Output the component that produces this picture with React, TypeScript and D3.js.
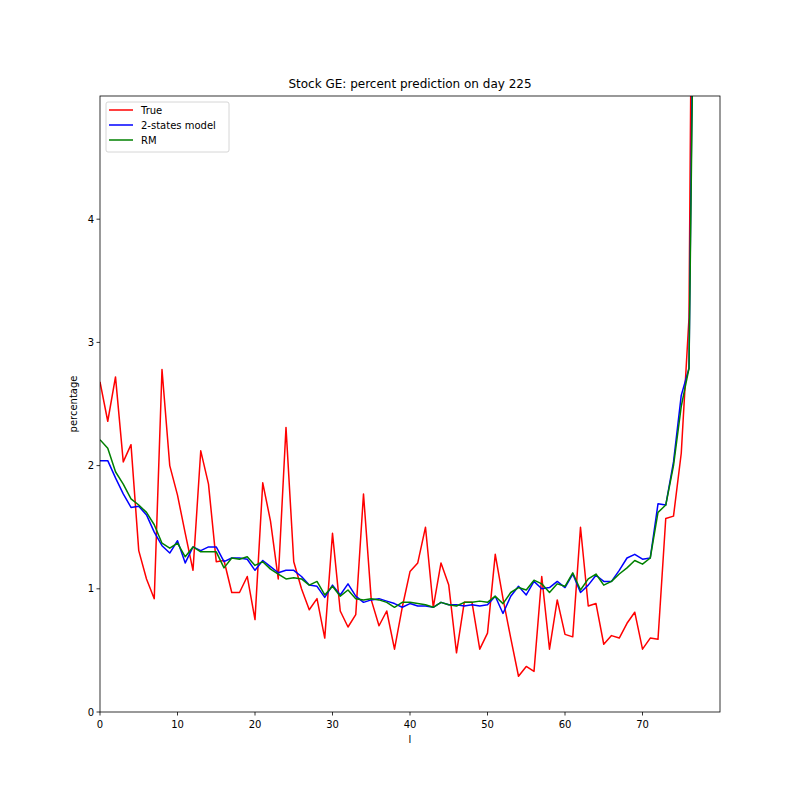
import React from 'react';
import * as d3 from 'd3';

const TRUE_VALUES = [
  2.68, 2.36, 2.72, 2.03, 2.17, 1.31, 1.08, 0.92, 2.78, 2.0,
  1.76, 1.45, 1.15, 2.12, 1.85, 1.22, 1.23, 0.97, 0.97, 1.1,
  0.75, 1.86, 1.55, 1.08, 2.31, 1.22, 1.0, 0.83, 0.92, 0.6,
  1.45, 0.82, 0.69, 0.79, 1.77, 0.91, 0.7, 0.82, 0.51, 0.85,
  1.14, 1.21, 1.5, 0.85, 1.21, 1.03, 0.48, 0.89, 0.89, 0.51,
  0.64, 1.28, 0.92, 0.6, 0.29, 0.37, 0.33, 1.1, 0.51, 0.91,
  0.63, 0.61, 1.5, 0.86, 0.88, 0.55, 0.62, 0.6, 0.72, 0.81,
  0.51, 0.6, 0.59, 1.57, 1.59, 2.1, 3.2, 11.5,
];

const TWO_STATES = [
  2.04, 2.04, 1.9, 1.77, 1.66, 1.67, 1.6, 1.46, 1.35, 1.29,
  1.39, 1.21, 1.34, 1.31, 1.34, 1.34, 1.22, 1.25, 1.25, 1.24,
  1.15, 1.23, 1.18, 1.13, 1.15, 1.15, 1.1, 1.03, 1.02, 0.93,
  1.03, 0.95, 1.04, 0.94, 0.89, 0.91, 0.92, 0.9, 0.88, 0.85,
  0.88, 0.86, 0.86, 0.85, 0.89, 0.87, 0.87, 0.86, 0.87, 0.86,
  0.87, 0.94, 0.8, 0.94, 1.02, 0.95, 1.06, 1.0, 1.01, 1.06,
  1.01, 1.12, 0.97, 1.03, 1.11, 1.06, 1.06, 1.15, 1.25, 1.28,
  1.24, 1.25, 1.69, 1.68, 2.03, 2.57, 2.79, 8.6,
];

const RM_VALUES = [
  2.21, 2.14, 1.95, 1.85, 1.73, 1.68, 1.62, 1.52, 1.37, 1.33,
  1.37, 1.26, 1.34, 1.3, 1.3, 1.3, 1.17, 1.25, 1.24, 1.26,
  1.19, 1.22, 1.16, 1.12, 1.08, 1.09, 1.08, 1.03, 1.06, 0.95,
  1.02, 0.94, 0.99, 0.92, 0.91, 0.92, 0.91, 0.89, 0.85, 0.89,
  0.89, 0.88, 0.87, 0.85, 0.89, 0.87, 0.86, 0.89, 0.89, 0.9,
  0.89, 0.94, 0.88, 0.97, 1.01, 0.99, 1.07, 1.04, 0.97, 1.04,
  1.02, 1.13, 0.99, 1.08, 1.12, 1.03, 1.06, 1.12, 1.17, 1.23,
  1.2, 1.25, 1.62, 1.68, 2.0, 2.48, 2.79, 8.0,
];

const X_TICKS = [0, 10, 20, 30, 40, 50, 60, 70];
const Y_TICKS = [0, 1, 2, 3, 4];

const SERIES = [
  { name: 'True', values: TRUE_VALUES, color: '#ff0000' },
  { name: '2-states model', values: TWO_STATES, color: '#0000ff' },
  { name: 'RM', values: RM_VALUES, color: '#008000' },
];

const FONT = '"DejaVu Sans", sans-serif';

export default function App() {
  const width = 800;
  const height = 800;
  const margin = { top: 96, right: 80, bottom: 88, left: 100 };
  const innerW = width - margin.left - margin.right;
  const innerH = height - margin.top - margin.bottom;

  const x = d3.scaleLinear().domain([0, 80]).range([0, innerW]);
  const y = d3.scaleLinear().domain([0, 5]).range([innerH, 0]);

  const line = d3
    .line<number>()
    .x((_, i) => x(i))
    .y((d) => y(d));

  return (
    <div style={{ position: 'absolute', left: 0, top: 0 }}>
      <svg width={width} height={height} style={{ display: 'block', background: '#fff' }}>
        <defs>
          <clipPath id="plot-area">
            <rect x={0} y={0} width={innerW} height={innerH} />
          </clipPath>
        </defs>
        <text
          x={margin.left + innerW / 2}
          y={88}
          textAnchor="middle"
          fontFamily={FONT}
          fontSize={12}
        >
          Stock GE: percent prediction on day 225
        </text>
        <g transform={`translate(${margin.left},${margin.top})`}>
          <g clipPath="url(#plot-area)">
            {SERIES.map((s) => (
              <path
                key={s.name}
                d={line(s.values) ?? ''}
                fill="none"
                stroke={s.color}
                strokeWidth={1.5}
                strokeLinejoin="round"
              />
            ))}
          </g>
          <rect x={0} y={0} width={innerW} height={innerH} fill="none" stroke="#000" strokeWidth={0.8} />

          {X_TICKS.map((t) => (
            <g key={`x${t}`} transform={`translate(${x(t)},${innerH})`}>
              <line y2={3.5} stroke="#000" strokeWidth={0.8} />
              <text y={16} textAnchor="middle" fontFamily={FONT} fontSize={10}>
                {t}
              </text>
            </g>
          ))}
          {Y_TICKS.map((t) => (
            <g key={`y${t}`} transform={`translate(0,${y(t)})`}>
              <line x2={-3.5} stroke="#000" strokeWidth={0.8} />
              <text x={-6} dy="0.35em" textAnchor="end" fontFamily={FONT} fontSize={10}>
                {t}
              </text>
            </g>
          ))}

          <text
            x={innerW / 2}
            y={innerH + 31}
            textAnchor="middle"
            fontFamily={FONT}
            fontSize={10}
          >
            l
          </text>
          <text
            transform={`translate(-23,${innerH / 2}) rotate(-90)`}
            textAnchor="middle"
            fontFamily={FONT}
            fontSize={10}
          >
            percentage
          </text>

          <g transform="translate(6,6)">
            <rect
              width={123}
              height={50}
              rx={2}
              fill="#fff"
              fillOpacity={0.8}
              stroke="#cccccc"
              strokeWidth={0.8}
            />
            {SERIES.map((s, i) => (
              <g key={s.name} transform={`translate(0,${8 + i * 15})`}>
                <line x1={3} x2={27} stroke={s.color} strokeWidth={1.5} />
                <text x={35} dy="0.35em" fontFamily={FONT} fontSize={10}>
                  {s.name}
                </text>
              </g>
            ))}
          </g>
        </g>
      </svg>
    </div>
  );
}
